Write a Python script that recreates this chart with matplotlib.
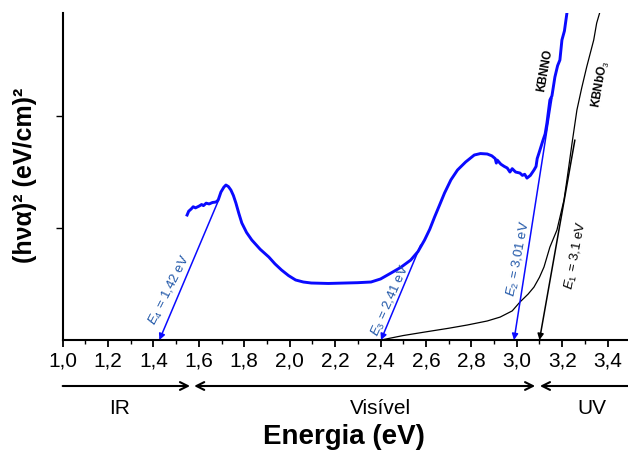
import matplotlib
matplotlib.use("Agg")
import matplotlib.pyplot as plt
from matplotlib.ticker import MultipleLocator, FuncFormatter

plt.rcParams['font.family'] = ['Liberation Sans', 'DejaVu Sans']
plt.rcParams['mathtext.fontset'] = 'custom'
plt.rcParams['mathtext.it'] = 'Liberation Sans:italic'
plt.rcParams['mathtext.rm'] = 'Liberation Sans'

# KBNNO (blue) curve
kbnno_x = [1.548, 1.555, 1.566, 1.575, 1.585, 1.601, 1.612, 1.620, 1.632, 1.645, 1.660, 1.675,
           1.685, 1.697, 1.710, 1.719, 1.730, 1.741, 1.752, 1.763, 1.776, 1.789, 1.810, 1.833,
           1.870, 1.908, 1.935, 1.964, 1.995, 2.026, 2.060, 2.095, 2.170, 2.244, 2.300, 2.358,
           2.400, 2.446, 2.490, 2.533, 2.565, 2.594, 2.617, 2.638, 2.660, 2.682, 2.710, 2.739,
           2.775, 2.813, 2.840, 2.870, 2.890, 2.905, 2.910, 2.914, 2.930, 2.945, 2.958, 2.970,
           2.980, 2.995, 3.014, 3.025, 3.035, 3.045, 3.060, 3.076, 3.085, 3.090, 3.098, 3.115,
           3.125, 3.133, 3.146, 3.155, 3.168, 3.180, 3.190, 3.199, 3.210, 3.221]
kbnno_y = [1.116, 1.150, 1.170, 1.190, 1.180, 1.196, 1.210, 1.200, 1.222, 1.215, 1.228, 1.232,
           1.250, 1.321, 1.365, 1.384, 1.370, 1.339, 1.290, 1.223, 1.130, 1.045, 0.960, 0.893,
           0.810, 0.741, 0.680, 0.625, 0.575, 0.536, 0.518, 0.509, 0.505, 0.509, 0.512, 0.518,
           0.545, 0.598, 0.650, 0.714, 0.790, 0.893, 0.990, 1.098, 1.205, 1.313, 1.430, 1.518,
           1.590, 1.652, 1.665, 1.661, 1.645, 1.620, 1.580, 1.607, 1.570, 1.550, 1.536, 1.500,
           1.530, 1.500, 1.491, 1.470, 1.480, 1.446, 1.470, 1.518, 1.550, 1.620, 1.670, 1.780,
           1.840, 1.938, 2.143, 2.180, 2.348, 2.450, 2.500, 2.679, 2.760, 2.920]

# KBNbO3 (black) curve
kbnbo_x = [2.402, 2.500, 2.594, 2.700, 2.782, 2.870, 2.927, 2.980, 3.014, 3.050, 3.076, 3.100,
           3.120, 3.146, 3.177, 3.208, 3.221, 3.243, 3.265, 3.286, 3.308, 3.339, 3.352, 3.365]
kbnbo_y = [0.000, 0.040, 0.071, 0.105, 0.134, 0.170, 0.205, 0.260, 0.339, 0.410, 0.473, 0.560,
           0.652, 0.830, 0.982, 1.250, 1.429, 1.750, 2.054, 2.250, 2.438, 2.679, 2.830, 2.920]

# Tangent-line arrows
gap_labels = ['$E_4$ = 1,42 eV', '$E_3$ = 2,41 eV', '$E_2$ = 3,01 eV', '$E_1$ = 3,1 eV']
gap_start_x = [1.685, 2.577, 3.155, 3.256]
gap_start_y = [1.241, 0.848, 2.160, 1.786]
gap_end_x = [1.426, 2.402, 2.988, 3.100]
label_x = [1.470, 2.445, 3.010, 3.260]
label_y = [0.446, 0.348, 0.730, 0.760]
label_rot = [63, 66, 79, 79]

xticks = [1.0, 1.2, 1.4, 1.6, 1.8, 2.0, 2.2, 2.4, 2.6, 2.8, 3.0, 3.2, 3.4]

fig = plt.figure(figsize=(6.28, 4.5), dpi=100)
ax = fig.add_axes([0.0998, 0.2444, 0.9002, 0.7267])

BLUE = '#0a0aff'
TXTBLUE = '#1f56a8'

ax.plot(kbnno_x, kbnno_y, color=BLUE, lw=2.1, solid_joinstyle='round')
ax.plot(kbnbo_x, kbnbo_y, color='black', lw=0.9)

arrow_cols = [BLUE, BLUE, BLUE, 'black']
text_cols = [TXTBLUE, TXTBLUE, TXTBLUE, 'black']
for i in range(4):
    ax.annotate('', xy=(gap_end_x[i], 0.0), xytext=(gap_start_x[i], gap_start_y[i]),
                arrowprops=dict(arrowstyle='-|>', color=arrow_cols[i], lw=1.1,
                                mutation_scale=9, shrinkA=0, shrinkB=0))
    ax.text(label_x[i], label_y[i], gap_labels[i], rotation=label_rot[i], color=text_cols[i],
            fontsize=9.5, ha='center', va='center', rotation_mode='anchor')

ax.text(3.125, 2.41, 'KBNNO', rotation=80, fontsize=8.5, fontweight='bold',
        ha='center', va='center', rotation_mode='anchor')
ax.text(3.37, 2.29, 'KBNbO$_3$', rotation=80, fontsize=8.5, fontweight='bold',
        ha='center', va='center', rotation_mode='anchor')

ax.set_xlim(1.0, 3.49)
ax.set_ylim(0, 2.92)
ax.spines['top'].set_visible(False)
ax.spines['right'].set_visible(False)
ax.spines['left'].set_linewidth(1.5)
ax.spines['bottom'].set_linewidth(1.5)

ax.set_xticks(xticks)
ax.xaxis.set_major_formatter(FuncFormatter(lambda v, p: f'{v:.1f}'.replace('.', ',')))
ax.xaxis.set_minor_locator(MultipleLocator(0.1))
ax.set_yticks([1, 2])
ax.set_yticklabels([])
ax.tick_params(axis='x', which='major', direction='out', length=5, width=1.3, labelsize=15, pad=3)
ax.tick_params(axis='x', which='minor', direction='out', length=3, width=1.0)
ax.tick_params(axis='y', which='major', direction='out', length=5, width=1.0)

# region arrows under the axis
yarr = 1 - 386 / 450
akw = dict(xycoords=('data', 'figure fraction'), textcoords=('data', 'figure fraction'),
           annotation_clip=False)
ax.annotate('', xy=(1.561, yarr), xytext=(1.0, yarr),
            arrowprops=dict(arrowstyle='->', lw=1.5, color='black', shrinkA=0, shrinkB=0,
                            mutation_scale=14), **akw)
ax.annotate('', xy=(3.081, yarr), xytext=(1.579, yarr),
            arrowprops=dict(arrowstyle='<->', lw=1.5, color='black', shrinkA=0, shrinkB=0,
                            mutation_scale=14), **akw)
ax.annotate('', xy=(3.102, yarr), xytext=(3.50, yarr),
            arrowprops=dict(arrowstyle='->', lw=1.5, color='black', shrinkA=0, shrinkB=0,
                            mutation_scale=14), **akw)

ytxt = 1 - 408 / 450
for xx, s in [(1.25, 'IR'), (2.40, 'Visível'), (3.33, 'UV')]:
    ax.annotate(s, xy=(xx, ytxt), xycoords=('data', 'figure fraction'), fontsize=15,
                ha='center', va='center', annotation_clip=False)

fig.text(0.548, 1 - 437 / 450, 'Energia (eV)', fontsize=20, fontweight='bold',
         ha='center', va='center')
fig.text(25 / 628, 1 - 175 / 450, '(hνα)² (eV/cm)²', fontsize=18, fontweight='bold',
         rotation=90, ha='center', va='center')

fig.savefig('out.png', dpi=100)
